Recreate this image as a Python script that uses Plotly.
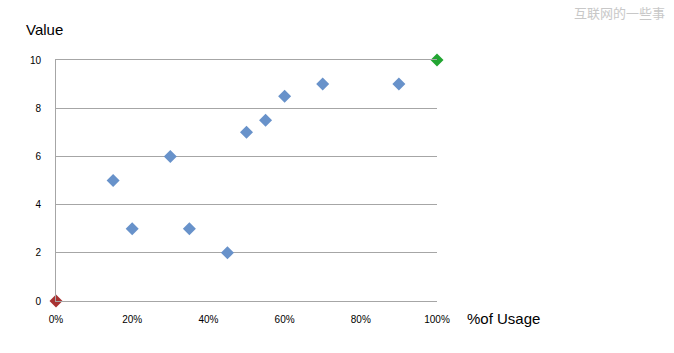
import plotly.graph_objects as go

usage = [0.15, 0.20, 0.30, 0.35, 0.45, 0.50, 0.55, 0.60, 0.70, 0.90]
values = [5, 3, 6, 3, 2, 7, 7.5, 8.5, 9, 9]
low_pt = ([0.0], [0])
high_pt = ([1.0], [10])
x_ticks = [0, 0.2, 0.4, 0.6, 0.8, 1.0]
x_labels = ["0%", "20%", "40%", "60%", "80%", "100%"]
y_ticks = [0, 2, 4, 6, 8, 10]

L, R, T, B = 56, 237, 60, 52
W, H = 674, 353
pw = W - L - R
ph = H - T - B

def px_x(p):
    return (p - L) / pw

def px_y(p):
    return (H - B - p) / ph

fig = go.Figure()
fig.add_trace(go.Scatter(x=usage, y=values, mode="markers",
                         marker=dict(symbol="diamond", size=10, color="#6892CA"),
                         cliponaxis=False, showlegend=False))
fig.add_trace(go.Scatter(x=low_pt[0], y=low_pt[1], mode="markers",
                         marker=dict(symbol="diamond", size=10, color="#A83232"),
                         cliponaxis=False, showlegend=False))
fig.add_trace(go.Scatter(x=high_pt[0], y=high_pt[1], mode="markers",
                         marker=dict(symbol="diamond", size=10, color="#22A532"),
                         cliponaxis=False, showlegend=False))

fig.update_layout(
    width=W, height=H,
    margin=dict(l=L, r=R, t=T, b=B),
    paper_bgcolor="white", plot_bgcolor="white",
    font=dict(family="Liberation Sans, Arial, sans-serif", size=10, color="#000"),
    xaxis=dict(range=[0, 1], tickvals=x_ticks, ticktext=x_labels,
               showgrid=False, zeroline=False, showline=True, mirror=True,
               linecolor="#A6A6A6", linewidth=1,
               ticks="outside", ticklen=9, tickcolor="rgba(0,0,0,0)",
               tickfont=dict(size=10)),
    yaxis=dict(range=[0, 10], tickvals=y_ticks, showgrid=True,
               gridcolor="#A6A6A6", gridwidth=1, zeroline=False,
               showline=True, linecolor="#A6A6A6", linewidth=1,
               ticks="outside", ticklen=12, tickcolor="rgba(0,0,0,0)",
               tickfont=dict(size=10)),
    annotations=[
        dict(text="Value", x=px_x(24), y=px_y(29), xref="paper", yref="paper",
             xanchor="left", yanchor="middle", showarrow=False, font=dict(size=15)),
        dict(text="%of Usage", x=px_x(465), y=px_y(318), xref="paper", yref="paper",
             xanchor="left", yanchor="middle", showarrow=False, font=dict(size=15)),
        dict(text="互联网的一些事", x=px_x(619), y=px_y(12), xref="paper", yref="paper",
             xanchor="center", yanchor="middle", showarrow=False,
             font=dict(size=13, color="#C8C8C8", family="Noto Sans CJK SC")),
    ],
)

fig.write_html("out.html")
